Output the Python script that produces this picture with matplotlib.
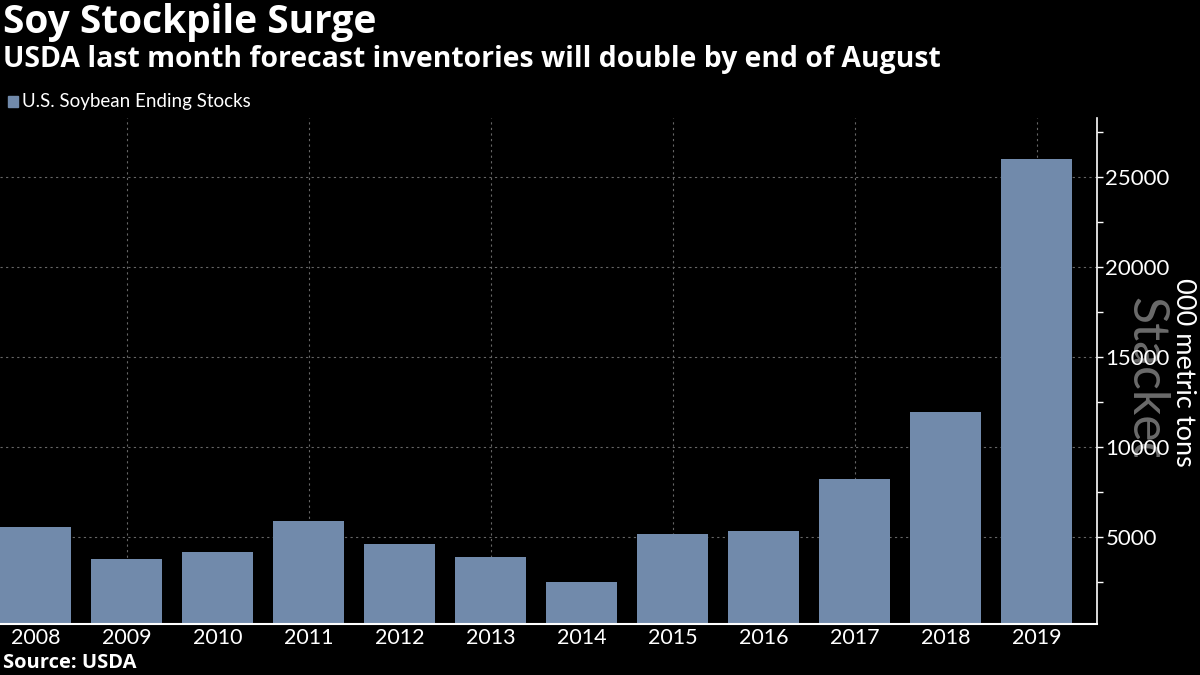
import matplotlib.pyplot as plt
from matplotlib.ticker import MultipleLocator
from matplotlib.transforms import Bbox

# datos
years = ["2008", "2009", "2010", "2011", "2012", "2013", "2014", "2015", "2016", "2017", "2018", "2019"]
stocks = [5580, 3780, 4170, 5890, 4610, 3890, 2520, 5180, 5350, 8240, 11960, 26000]

bar_color = "#718aab"
cond = ["Lato", "DejaVu Sans"]

fig = plt.figure(figsize=(12, 6.75), dpi=100, facecolor="black")
ax = fig.add_axes([0.0, 1 - 624 / 675, 1097 / 1200, (624 - 118) / 675])
ax.set_facecolor("black")

x = range(len(years))
ax.bar(x, stocks, width=0.78, color=bar_color, zorder=2)

ax.set_xlim(-0.395, 11.66)
ax.set_ylim(180, 28280)

# grid: vertical cada dos años
ax.set_xticks(list(x))
ax.set_xticklabels(years, family=cond, fontsize=15.5, color="white")
for i in range(1, len(years), 2):
    ax.axvline(i, color="#666666", lw=0.8, ls=(0, (2, 3)), zorder=1)
ax.yaxis.set_major_locator(MultipleLocator(5000))
ax.yaxis.set_minor_locator(MultipleLocator(2500))
ax.grid(axis="y", which="major", color="#666666", lw=0.8, ls=(0, (2, 3)), zorder=1)

ax.yaxis.tick_right()
ax.tick_params(axis="y", which="major", length=4, width=1, color="white", labelcolor="white",
               labelsize=16, pad=2)
ax.tick_params(axis="y", which="minor", length=4, width=1, color="white")
ax.tick_params(axis="x", length=0, pad=3)
for lab in ax.get_yticklabels():
    lab.set_family(cond)

for s in ["top", "left"]:
    ax.spines[s].set_visible(False)
ax.spines["right"].set_color("white")
ax.spines["bottom"].set_color("white")
ax.spines["right"].set_linewidth(1.2)
ax.spines["bottom"].set_linewidth(1.5)

# textos
fig.text(3 / 1200, 1 - 22 / 675, "Soy Stockpile Surge", fontsize=28, fontweight="bold",
         color="white", va="center", ha="left", family="Open Sans")
fig.text(3 / 1200, 1 - 60 / 675, "USDA last month forecast inventories will double by end of August",
         fontsize=20.4, fontweight="bold", color="white", va="center", ha="left", family="Open Sans")
fig.patches.append(plt.Rectangle((8 / 1200, 1 - 107 / 675), 10 / 1200, 11 / 675,
                                 transform=fig.transFigure, color=bar_color))
fig.text(22 / 1200, 1 - 101 / 675, "U.S. Soybean Ending Stocks", fontsize=13.5, color="white",
         va="center", ha="left", family=cond)
fig.text(3 / 1200, 1 - 663 / 675, "Source: USDA", fontsize=14.5, fontweight="bold", color="white",
         va="center", ha="left", family="Open Sans")

fig.text(1183 / 1200, 1 - 372 / 675, "000 metric tons", rotation=270, fontsize=19.5, color="white",
         va="center", ha="center", family=cond)

wm = fig.text(1145 / 1200, 1 - 297 / 675, "Stacked", rotation=270, fontsize=36, color="#6b6b6b",
              va="top", ha="center", family=cond, zorder=-1)
wm.set_clip_box(Bbox([[1100, 675 - 457], [1200, 675 - 280]]))
wm.set_clip_on(True)

fig.savefig("out.png", dpi=100, facecolor="black")
